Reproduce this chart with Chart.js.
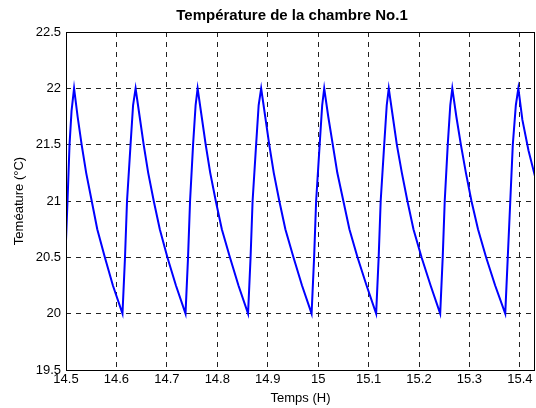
<!DOCTYPE html>
<html>
<head>
<meta charset="utf-8">
<script src="https://cdn.jsdelivr.net/npm/chart.js@4"></script>
<style>
  html, body { margin: 0; padding: 0; background: #fff; }
  #wrap { width: 536px; height: 408px; }
</style>
</head>
<body>
<div id="wrap"><canvas id="tempChart"></canvas></div>
<script>
// temps (heures) et températures
const temps = [
  14.500, 14.503, 14.507, 14.511, 14.516,
  14.523, 14.531, 14.540, 14.551, 14.562, 14.577, 14.593, 14.612,
  14.617, 14.621, 14.628, 14.633, 14.638,
  14.646, 14.654, 14.663, 14.674, 14.686, 14.701, 14.718, 14.737,
  14.742, 14.746, 14.752, 14.757, 14.761,
  14.769, 14.777, 14.786, 14.797, 14.809, 14.825, 14.842, 14.861,
  14.866, 14.870, 14.877, 14.882, 14.887,
  14.895, 14.903, 14.912, 14.923, 14.935, 14.951, 14.968, 14.987,
  14.992, 14.996, 15.003, 15.008, 15.012,
  15.020, 15.029, 15.038, 15.050, 15.062, 15.078, 15.096, 15.115,
  15.120, 15.124, 15.131, 15.136, 15.140,
  15.148, 15.156, 15.166, 15.177, 15.189, 15.205, 15.223, 15.242,
  15.247, 15.251, 15.257, 15.262, 15.266,
  15.274, 15.283, 15.293, 15.304, 15.317, 15.333, 15.351, 15.371,
  15.376, 15.381, 15.386, 15.392, 15.397,
  15.405, 15.417, 15.430
];
const temperature = [
  20.65, 21.00, 21.50, 21.80, 22.00,
  21.75, 21.50, 21.25, 21.00, 20.75, 20.50, 20.25, 20.00,
  20.50, 21.00, 21.50, 21.85, 22.00,
  21.75, 21.50, 21.25, 21.00, 20.75, 20.50, 20.25, 20.00,
  20.50, 21.00, 21.50, 21.85, 22.00,
  21.75, 21.50, 21.25, 21.00, 20.75, 20.50, 20.25, 20.00,
  20.50, 21.00, 21.50, 21.85, 22.00,
  21.75, 21.50, 21.25, 21.00, 20.75, 20.50, 20.25, 20.00,
  20.50, 21.00, 21.50, 21.85, 22.00,
  21.75, 21.50, 21.25, 21.00, 20.75, 20.50, 20.25, 20.00,
  20.50, 21.00, 21.50, 21.85, 22.00,
  21.75, 21.50, 21.25, 21.00, 20.75, 20.50, 20.25, 20.00,
  20.50, 21.00, 21.50, 21.85, 22.00,
  21.75, 21.50, 21.25, 21.00, 20.75, 20.50, 20.25, 20.00,
  20.50, 21.00, 21.50, 21.85, 22.00,
  21.72, 21.45, 21.22
];
const xTicks = [14.5, 14.6, 14.7, 14.8, 14.9, 15, 15.1, 15.2, 15.3, 15.4];
const yTicks = [19.5, 20, 20.5, 21, 21.5, 22, 22.5];

const font = { family: 'Liberation Sans, Arial, sans-serif', size: 13 };

// cadre noir + titre centré sur les axes
const cadre = {
  id: 'cadre',
  afterDraw(chart) {
    const { ctx, chartArea: a } = chart;
    ctx.save();
    ctx.strokeStyle = '#000';
    ctx.lineWidth = 1;
    ctx.strokeRect(a.left + 0.5, a.top + 0.5, a.right - a.left - 1, a.bottom - a.top);
    ctx.fillStyle = '#000';
    ctx.font = 'bold 15px Liberation Sans, Arial, sans-serif';
    ctx.textAlign = 'center';
    ctx.textBaseline = 'middle';
    ctx.fillText('Température de la chambre No.1', 292, 16);
    ctx.restore();
  }
};

new Chart(document.getElementById('tempChart'), {
  type: 'line',
  data: {
    datasets: [{
      data: temps.map((t, i) => ({ x: t, y: temperature[i] })),
      borderColor: '#0000ff',
      borderWidth: 2,
      pointRadius: 0,
      tension: 0,
      fill: false
    }]
  },
  options: {
    responsive: true,
    maintainAspectRatio: false,
    animation: false,
    layout: { padding: { top: 32, right: 1, bottom: 0, left: 0 } },
    plugins: { legend: { display: false }, tooltip: { enabled: false } },
    scales: {
      x: {
        type: 'linear',
        min: 14.5,
        max: 15.43,
        afterBuildTicks: s => { s.ticks = xTicks.map(v => ({ value: v })); },
        afterFit: s => { s.height = 38; },
        ticks: {
          color: '#000',
          font,
          padding: 2,
          maxRotation: 0,
          autoSkip: false,
          callback: v => String(Math.round(v * 10) / 10)
        },
        grid: { color: '#222', lineWidth: 1, drawTicks: false },
        border: { display: false, dash: [5, 5] },
        title: { display: true, text: 'Temps (H)', color: '#000', font, padding: { top: 0, bottom: 2 } }
      },
      y: {
        min: 19.5,
        max: 22.5,
        afterBuildTicks: s => { s.ticks = yTicks.map(v => ({ value: v })); },
        afterFit: s => { s.width = 66; },
        ticks: {
          color: '#000',
          font,
          padding: 5,
          autoSkip: false,
          callback: v => String(v)
        },
        grid: { color: '#222', lineWidth: 1, drawTicks: false },
        border: { display: false, dash: [5, 5] },
        title: { display: true, text: 'Teméature (°C)', color: '#000', font, padding: { top: 12, bottom: 0 } }
      }
    }
  },
  plugins: [cadre]
});
</script>
</body>
</html>
